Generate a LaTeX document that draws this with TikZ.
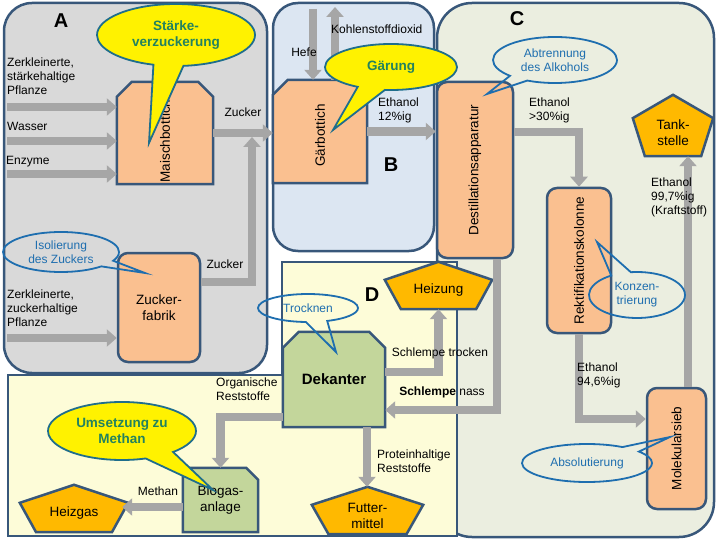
\documentclass[tikz,border=0pt]{standalone}
\usepackage{fontspec}
\setmainfont{Liberation Sans}
\usetikzlibrary{arrows.meta,calc,shapes.callouts}

\definecolor{panelA}{RGB}{217,217,217}
\definecolor{panelB}{RGB}{220,230,242}
\definecolor{panelC}{RGB}{235,238,224}
\definecolor{panelD}{RGB}{253,252,216}
\definecolor{edgeblue}{RGB}{56,87,122}
\definecolor{boxorange}{RGB}{250,192,144}
\definecolor{boxgreen}{RGB}{195,214,155}
\definecolor{pentorange}{RGB}{255,185,0}
\definecolor{flowgray}{RGB}{166,166,166}
\definecolor{calledge}{RGB}{31,110,140}
\definecolor{calltext}{RGB}{35,130,95}
\definecolor{callblue}{RGB}{30,110,175}

\newcommand{\pentdraw}[1]{%
  \filldraw[pentshape] (#1.north) -- ($(#1.north east)!0.38!(#1.south east)$)
    -- ($(#1.south east)!0.15!(#1.south west)$) -- ($(#1.south west)!0.15!(#1.south east)$)
    -- ($(#1.north west)!0.38!(#1.south west)$) -- cycle;}

\begin{document}
\begin{tikzpicture}[x=1pt,y=-1pt,
  panel/.style={draw=edgeblue,line width=2.5pt},
  procbox/.style={draw=edgeblue,fill=boxorange,line width=2.5pt},
  greenbox/.style={draw=edgeblue,fill=boxgreen,line width=2.5pt},
  pentshape/.style={draw=edgeblue,fill=pentorange,line width=2.5pt},
  area/.style 2 args={minimum width=#1pt,minimum height=#2pt,inner sep=0pt},
  boxtext/.style={font=\fontsize{13.5}{16}\selectfont,align=center,inner sep=0pt},
  lbl/.style={font=\fontsize{12}{14}\selectfont,align=left,inner sep=0pt},
  title/.style={font=\bfseries\fontsize{20}{24}\selectfont,inner sep=0pt},
  flow/.style={draw=flowgray,line width=8.5pt,-{Triangle[length=10pt,width=17pt]}},
  yellowcall/.style={ellipse callout,draw=calledge,fill=yellow,line width=1.8pt,text=calltext,
    font=\bfseries\fontsize{13.5}{16}\selectfont,align=center,inner sep=0pt},
  bluecall/.style={ellipse callout,draw=callblue,line width=1.8pt,text=callblue,
    font=\fontsize{12}{14}\selectfont,align=center,inner sep=0pt}]

\useasboundingbox (0,0) rectangle (720,540);

% panels
\filldraw[panel,fill=panelC,rounded corners=35pt] (437,3) rectangle (714,537);
\filldraw[panel,fill=panelB,rounded corners=25pt] (273,3) rectangle (434,251);
\filldraw[panel,fill=panelA,rounded corners=28pt] (4,3) rectangle (267,373);
\filldraw[panel,fill=panelD] (8,375) -- (282,375) -- (282,262) -- (457,262) -- (457,536) -- (8,536) -- cycle;

\node[title] (titleA) at (61,21) {A};
\node[title] (titleB) at (391,165) {B};
\node[title] (titleC) at (517,19) {C};
\node[title] (titleD) at (372,295) {D};

% boxes with cut corners
\node[area={96}{102}] (maisch) at (165,133) {};
\filldraw[procbox] (maisch.south west) -- ([yshift=-15pt]maisch.north west) -- ([xshift=15pt]maisch.north west)
  -- ([xshift=-15pt]maisch.north east) -- ([yshift=-15pt]maisch.north east) -- (maisch.south east) -- cycle;
\node[boxtext,yshift=-8pt] (maisch-t) at (maisch.center) {\rotatebox{90}{Maischbottich}};

\node[area={94}{103}] (gaer) at (320,131.5) {};
\filldraw[procbox] (gaer.south west) -- ([yshift=-15pt]gaer.north west) -- ([xshift=15pt]gaer.north west)
  -- ([xshift=-15pt]gaer.north east) -- ([yshift=-15pt]gaer.north east) -- (gaer.south east) -- cycle;
\node[boxtext,yshift=-4pt] (gaer-t) at (gaer.center) {\rotatebox{90}{Gärbottich}};

\node[area={102}{95}] (dek) at (334,379.5) {};
\filldraw[greenbox] (dek.south west) -- ([yshift=-16pt]dek.north west) -- ([xshift=16pt]dek.north west)
  -- ([xshift=-16pt]dek.north east) -- ([yshift=-16pt]dek.north east) -- (dek.south east) -- cycle;
\node[boxtext,font=\bfseries\fontsize{15}{18}\selectfont] (dek-t) at (dek.center) {Dekanter};

\node[area={75}{64}] (bio) at (220.5,500) {};
\filldraw[greenbox] (bio.south west) -- (bio.north west) -- ([xshift=-12pt]bio.north east)
  -- ([yshift=-12pt]bio.north east) -- (bio.south east) -- cycle;
\node[boxtext] (bio-t) at (bio.center) {Biogas-\\anlage};

% rounded boxes
\node[procbox,rounded corners=10pt,area={82}{109},boxtext] (zfab) at (159,307.5) {Zucker-\\fabrik};
\node[procbox,rounded corners=10pt,area={76}{176},boxtext] (dest) at (475,170) {\rotatebox{90}{Destillationsapparatur}};
\node[procbox,rounded corners=10pt,area={64}{145},boxtext] (rekt) at (579,260.5) {\rotatebox{90}{Rektifikationskolonne}};
\node[procbox,rounded corners=10pt,area={59}{121},boxtext] (mol) at (676.5,448.5) {\rotatebox{90}{Molekularsieb}};

% pentagons
\node[area={80}{61}] (tank) at (673,125.5) {};
\pentdraw{tank}
\node[boxtext,yshift=-7pt] (tank-t) at (tank.center) {Tank-\\stelle};
\node[area={107}{47}] (heiz) at (438.5,285.5) {};
\pentdraw{heiz}
\node[boxtext,yshift=-5pt] (heiz-t) at (heiz.center) {Heizung};
\node[area={108}{47}] (heizgas) at (74,508.5) {};
\pentdraw{heizgas}
\node[boxtext,yshift=-5pt] (heizgas-t) at (heizgas.center) {Heizgas};
\node[area={111}{47}] (futter) at (367.5,510.5) {};
\pentdraw{futter}
\node[boxtext,yshift=-5pt] (futter-t) at (futter.center) {Futter-\\mittel};

% flows
\coordinate (in1) at (7,107);
\coordinate (in2) at (7,141);
\coordinate (in3) at (7,174);
\coordinate (in4) at (7,338);
\coordinate (hefein) at (313,9);
\coordinate (co2out) at (335,7);
\coordinate (zmerge) at (252,137);
\draw[flow] (in1) -- (in1 -| maisch.west);
\draw[flow] (in2) -- (in2 -| maisch.west);
\draw[flow] (in3) -- (in3 -| maisch.west);
\draw[flow] (in4) -- (in4 -| zfab.west);
\draw[flow] (maisch.east) -- (maisch.east -| gaer.west);
\draw[flow] ([yshift=25.5pt]zfab.east) -| (zmerge);
\draw[flow] (hefein) -- (hefein |- gaer.north);
\draw[flow] (co2out |- gaer.north) -- (co2out);
\draw[flow] (gaer.east) -- (gaer.east -| dest.west);
\draw[flow] ([yshift=38pt]dest.east) -| (rekt.north);
\draw[flow] (rekt.south) |- ([yshift=29.5pt]mol.west);
\draw[flow] ([xshift=11.5pt]mol.north) -- ([xshift=11.5pt]mol.north |- tank.south);
\draw[flow] ([yshift=7.5pt]dek.east) -| (heiz.south);
\draw[flow] ([xshift=22pt]dest.south) |- ([yshift=-30.5pt]dek.east);
\draw[flow] ([yshift=-37.5pt]dek.west) -| (bio.north);
\draw[flow] ([yshift=-7pt]bio.west) -- ([yshift=-7pt,xshift=-6pt]bio.west -| heizgas.east);
\draw[flow] ([xshift=33pt]dek.south) -- ([xshift=33pt]dek.south |- futter.north);

% labels
\node[lbl,anchor=north west] (l-staerke) at (7,58) {Zerkleinerte,\\stärkehaltige\\Pflanze};
\node[lbl,anchor=north west] (l-wasser) at (7,122) {Wasser};
\node[lbl,anchor=north west] (l-enzyme) at (6,156) {Enzyme};
\node[lbl,anchor=north west] (l-zuckerpfl) at (7,290) {Zerkleinerte,\\zuckerhaltige\\Pflanze};
\node[lbl] (l-zucker1) at (243,112) {Zucker};
\node[lbl] (l-zucker2) at (225,264) {Zucker};
\node[lbl] (l-hefe) at (304,52) {Hefe};
\node[lbl,anchor=west] (l-co2) at (331,29) {Kohlenstoffdioxid};
\node[lbl,anchor=north west] (l-eth12) at (378,98) {Ethanol\\12\%ig};
\node[lbl,anchor=north west] (l-eth30) at (529,98) {Ethanol\\>30\%ig};
\node[lbl,anchor=north west] (l-eth997) at (651,178) {Ethanol\\99,7\%ig\\(Kraftstoff)};
\node[lbl,anchor=north west] (l-eth946) at (577,363) {Ethanol\\94,6\%ig};
\node[lbl] (l-trocken) at (440,353) {Schlempe trocken};
\node[lbl] (l-nass) at (442,392) {{\bfseries Schlempe} nass};
\node[lbl,anchor=north west] (l-organ) at (216,378) {Organische\\Reststoffe};
\node[lbl,anchor=north west] (l-protein) at (377,450) {Proteinhaltige\\Reststoffe};
\node[lbl] (l-methan) at (158,491) {Methan};

% callouts
\coordinate (staerkeptr) at (149,143);
\coordinate (gaerptr) at (333,130);
\coordinate (umsptr) at (213,490);
\coordinate (isolptr) at (145,273);
\coordinate (abtrptr) at (487,94);
\coordinate (konzptr) at (597,242);
\coordinate (trockptr) at (336,352);
\coordinate (absolptr) at (670,437);

\node[yellowcall,minimum width=158pt,minimum height=62pt,callout absolute pointer={(staerkeptr)},callout pointer arc=22] (staerke) at (176,35) {Stärke-\\verzuckerung};
\node[yellowcall,minimum width=132pt,minimum height=46pt,callout absolute pointer={(gaerptr)},callout pointer arc=25] (gaerung) at (391,67) {Gärung};
\node[yellowcall,minimum width=148pt,minimum height=58pt,callout absolute pointer={(umsptr)},callout pointer arc=25] (umsetz) at (122,431) {Umsetzung zu\\Methan};
\node[bluecall,minimum width=116pt,minimum height=40pt,callout absolute pointer={(isolptr)},callout pointer arc=20] (isol) at (61,252) {Isolierung\\des Zuckers};
\node[bluecall,minimum width=124pt,minimum height=46pt,callout absolute pointer={(abtrptr)},callout pointer arc=20] (abtr) at (555,60) {Abtrennung\\des Alkohols};
\node[bluecall,minimum width=96pt,minimum height=46pt,callout absolute pointer={(konzptr)},callout pointer arc=25] (konz) at (637,295) {Konzen-\\trierung};
\node[bluecall,minimum width=100pt,minimum height=28pt,callout absolute pointer={(trockptr)},callout pointer arc=25] (trock) at (308,308) {Trocknen};
\node[bluecall,minimum width=130pt,minimum height=38pt,callout absolute pointer={(absolptr)},callout pointer arc=20] (absol) at (587,463) {Absolutierung};

\end{tikzpicture}
\end{document}
